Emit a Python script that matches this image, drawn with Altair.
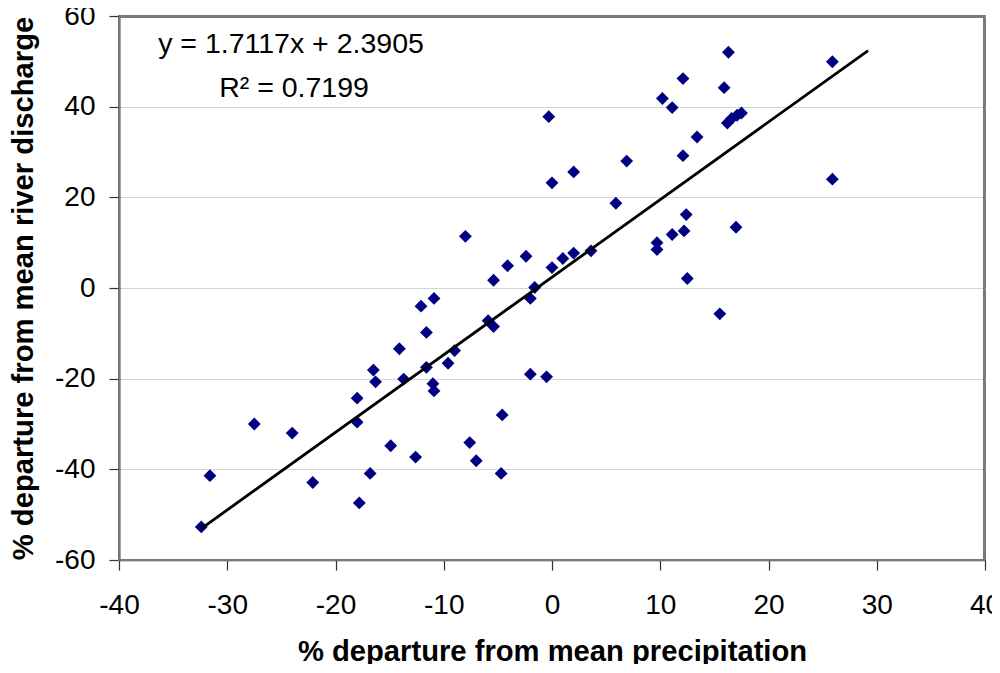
import altair as alt
import pandas as pd

# Data
precip = [-0.3, 0.0, -8.0, -5.4, -4.1, -2.4, 0.0, -1.6, -2.0, -10.9,
          16.3, 25.9, 12.1, 15.9, 10.2, 11.1, 16.2, 16.6, 17.1, 17.5,
          13.4, 12.1, 6.9, 2.0, 25.9, 5.9, 12.4, 17.0, 12.2, 11.1,
          9.7, 9.7, 3.6, 2.0, 1.0, 12.5, 15.5, -0.5, -12.1, -11.6,
          -5.9, -5.4, -14.1, -9.0, -9.6, -16.5, -16.3, -13.7, -11.6, -11.0,
          -10.9, -2.0, -18.0, -18.0, -27.5, -24.0, -4.6, -14.9, -12.6, -7.6,
          -7.0, -4.7, -16.8, -22.1, -31.6, -17.8, -32.4]
discharge = [37.8, 23.2, 11.4, 1.7, 4.9, 7.0, 4.5, 0.1, -2.3, -2.3,
             52.0, 49.9, 46.2, 44.2, 41.8, 39.8, 36.4, 37.4, 38.1, 38.6,
             33.3, 29.2, 28.0, 25.6, 24.0, 18.7, 16.2, 13.4, 12.6, 11.8,
             10.0, 8.5, 8.2, 7.7, 6.5, 2.1, -5.7, -19.6, -4.0, -9.8,
             -7.2, -8.5, -13.4, -13.8, -16.6, -18.1, -20.7, -20.1, -17.5, -21.1,
             -22.7, -19.0, -24.3, -29.6, -30.0, -32.0, -28.0, -34.8, -37.3, -34.1,
             -38.1, -40.9, -40.9, -42.9, -41.4, -47.4, -52.7]

slope = 1.7117
intercept = 2.3905
trend_x = [-32.4, 29.2]
x_ticks = [-40, -30, -20, -10, 0, 10, 20, 30, 40]
y_ticks = [-60, -40, -20, 0, 20, 40, 60]
eq_lines = ["y = 1.7117x + 2.3905", "R\u00b2 = 0.7199"]

FONT = "Liberation Sans"
W, H = 866, 544

pts = pd.DataFrame({"p": precip, "d": discharge})
trend = pd.DataFrame({"p": trend_x, "d": [slope * v + intercept for v in trend_x]})

xscale = alt.Scale(domain=[-40, 40], nice=False, zero=False)
yscale = alt.Scale(domain=[-60, 60], nice=False, zero=False)

xaxis = alt.Axis(
    title="% departure from mean precipitation", values=x_ticks, grid=False,
    tickSize=10, tickColor="#333333", domainColor="#333333", tickWidth=1.2, domainWidth=1.5,
    labelFont=FONT, labelFontSize=28, labelColor="black", labelPadding=21,
    labelExpr="toString(datum.value)",
    titleFont=FONT, titleFontSize=29.2, titleFontWeight="bold", titleColor="black",
    titlePadding=18, labelFlush=False)
yaxis = alt.Axis(
    title="% departure from mean river discharge", values=y_ticks, grid=True,
    gridColor="#d4d4d4", gridWidth=1.2,
    tickSize=10, tickColor="#333333", domainColor="#333333", tickWidth=1.2, domainWidth=1.5,
    labelFont=FONT, labelFontSize=28, labelColor="black", labelPadding=14,
    labelExpr="toString(datum.value)",
    titleFont=FONT, titleFontSize=29.2, titleFontWeight="bold", titleColor="black",
    titlePadding=16, labelFlush=False)

# plot-area frame drawn as an outlined rectangle over the plot area
frame_df = pd.DataFrame({"k": [0]})
frame = alt.Chart(frame_df).mark_rect(fill=None, fillOpacity=0, stroke="#7a7a7a", strokeWidth=2).encode(
    x=alt.value(0.5), x2=alt.value(W - 1), y=alt.value(1), y2=alt.value(H))

points = alt.Chart(pts).mark_point(shape="diamond", filled=True, size=165, color="#000080", opacity=1).encode(
    x=alt.X("p:Q", scale=xscale, axis=xaxis),
    y=alt.Y("d:Q", scale=yscale, axis=yaxis),
)

line = alt.Chart(trend).mark_line(color="black", strokeWidth=2.8).encode(
    x=alt.X("p:Q", scale=xscale),
    y=alt.Y("d:Q", scale=yscale),
)

eq_df = pd.DataFrame({"t": eq_lines, "row": [0, 1]})
eq1 = alt.Chart(eq_df[eq_df.row == 0]).mark_text(font=FONT, fontSize=28.5, color="black", align="center", baseline="middle").encode(
    text="t:N", x=alt.value(172), y=alt.value(28))
eq2 = alt.Chart(eq_df[eq_df.row == 1]).mark_text(font=FONT, fontSize=28.5, color="black", align="center", baseline="middle").encode(
    text="t:N", x=alt.value(175), y=alt.value(72))

chart = alt.layer(frame, points, line, eq1, eq2).properties(
    width=W, height=H,
    background="white",
    autosize=alt.AutoSizeParams(type="none"),
    padding={"left": 111, "top": 8, "right": 7, "bottom": 104},
).configure_view(stroke="#7a7a7a", strokeWidth=2)

chart.save("out.html", embed_options={"renderer": "svg", "actions": False})
